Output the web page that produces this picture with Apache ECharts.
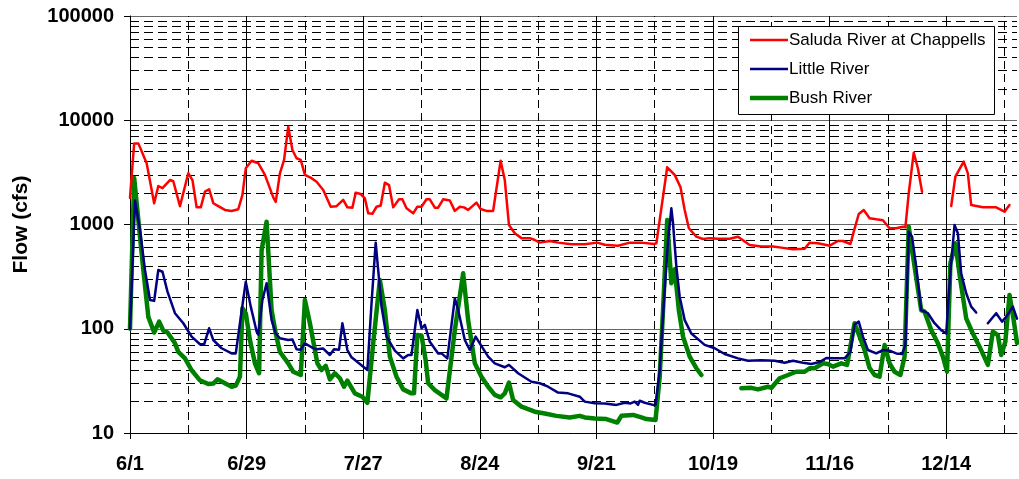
<!DOCTYPE html>
<html>
<head>
<meta charset="utf-8">
<script src="https://cdn.jsdelivr.net/npm/echarts@6/dist/echarts.min.js"></script>
<style>
  html, body { margin: 0; padding: 0; background: #fff; }
  #chart { width: 1019px; height: 479px; }
</style>
</head>
<body>
<div id="chart"></div>
<script>
// Daily streamflow (cfs), x = days after June 1
const tickDays = [0, 28, 56, 84, 112, 140, 168, 196];
const tickLabels = ['6/1', '6/29', '7/27', '8/24', '9/21', '10/19', '11/16', '12/14'];
const halfTickDays = [14, 42, 70, 98, 126, 154, 182, 210];

const saluda = [
  [0,1800],[1,6000],[2,6000],[4,3870],[5.8,1600],[6.8,2340],[7.8,2230],[9.6,2670],[10.4,2600],
  [12,1500],[14,3100],[15,2670],[16,1460],[17,1460],[18,2070],[19,2180],[20,1600],[21.2,1500],
  [22.8,1380],[24.4,1350],[26,1400],[27,1920],[27.8,3460],[29.2,4090],[30.8,3870],[32.4,2990],
  [34.4,1820],[35,1650],[36,3100],[37,4160],[38,8670],[39,5190],[40,4320],[41,4160],[42,2990],
  [43.6,2780],[44.8,2570],[46.4,2140],[48.2,1480],[49.6,1500],[51.2,1720],[52.2,1460],[53.4,1450],
  [54.2,2020],[55.4,1960],[56.4,1780],[57.2,1280],[58.2,1265],[59.2,1480],[60.2,1520],[61.2,2520],
  [62.2,2390],[63.2,1460],[64.6,1745],[65.4,1745],[66.4,1430],[68,1280],[69,1480],[70,1480],
  [71.2,1745],[72,1745],[73.2,1450],[74,1450],[75.2,1745],[76.8,1700],[78,1350],[79.2,1480],
  [80.2,1460],[81.2,1380],[83.2,1620],[84.2,1410],[85.6,1350],[87.2,1350],[89,4090],[90,2670],
  [91,990],[92.4,824],[94,740],[96,740],[97.2,710],[98.4,670],[100.8,695],[102.8,670],[106,646],
  [109.2,646],[112.2,670],[114,640],[117.2,626],[120,670],[122.8,670],[125.8,650],[126.4,660],
  [129,3540],[130.8,2990],[132.2,2280],[133.2,1380],[134.2,920],[136,764],[137.6,726],[139.2,740],
  [141.2,730],[144,730],[146,764],[148.8,636],[151.6,615],[154.4,615],[156.4,600],[159.2,578],
  [162,585],[163.2,670],[165.2,660],[168,626],[170,695],[171.2,695],[173,650],[173.8,853],
  [175,1262],[176.2,1377],[177.6,1150],[179.2,1122],[180.8,1100],[182.4,920],[184,920],
  [185.6,953],[186.2,940],[187,1990],[188.2,4885],[189.2,3460],[190.2,2065],[193,null],
  [197.2,1504],[198.2,2877],[200.2,4005],[201.2,3098],[202,1538],[204.8,1462],[208,1462],
  [210,1327],[211.2,1538]
];

const little = [
  [0,100],[1.2,1700],[2.4,885],[3.6,366],[4.8,189],[5.8,185],[6.8,366],[7.8,352],[9,227],
  [10.8,141],[12.8,113],[14.8,84],[16.8,71],[17.8,71],[19,101],[20,78],[22,65],[24.4,58],
  [25.4,58],[26.4,113],[27.8,283],[29,163],[30.4,94],[30.8,88],[31.8,189],[32.8,273],[34,121],
  [35,90],[36,81],[38,78],[39,79],[40,63.5],[41,63],[42,72.5],[43.6,66.4],[44.8,63.5],[46.4,64.5],
  [48,56],[49,63.5],[50.2,63],[51,113],[52.2,62.5],[53.2,53.2],[55.2,45.9],[57,40.2],[58,175],
  [59,670],[60.4,163],[61.6,84],[63.6,61.6],[65.6,52],[66.8,56],[67.6,56],[69,151],[70,101],
  [70.8,109],[72,75],[74,58],[74.8,58],[76.2,52],[78,196],[78.8,151],[80.4,78],[81.6,62.5],
  [83,84],[84,72.5],[86,54],[87.6,46.6],[90,42.7],[91,45],[93.2,37.4],[96.4,31],[98.4,30],
  [100.4,27.8],[102.8,24.4],[105.2,24],[108,22.3],[109.2,20],[111.6,19.3],[114,19.2],[116.8,18.6],
  [118.8,19.5],[120.2,19.2],[121.2,20],[122,18.6],[122.4,20.4],[123.6,19.5],[125.6,18.6],
  [126.2,18.6],[127.2,40],[128.2,180],[129.2,700],[130,1430],[130.4,1030],[131.2,394],[132,203],
  [133.2,121],[134.8,90],[138,70],[140.4,65],[142.8,57.3],[146,52],[148.4,49.4],[151.6,50],
  [154.8,49.4],[157.2,47.2],[159.2,49.4],[161.6,47.2],[163.6,45.9],[165.6,48],[167.2,52.4],
  [169.2,52],[171.6,52],[173,60],[174,110],[175,117],[176,84],[177.2,62.5],[179.2,58],
  [180.8,62.5],[182.4,61.6],[184,58],[185.4,57.3],[186.2,70],[187,850],[187.8,764],[188.8,394],
  [190,151],[191.6,141],[193.2,113],[194.8,97],[196,90],[197,350],[198,989],[198.8,824],
  [199.6,340],[200.8,219],[202,163],[203.2,143],[204.5,null],[206,113],[208,141],[209.4,117],
  [210.4,130],[212,163],[213,125]
];

const bush = [
  [0,100],[1,2800],[1.6,1600],[2.4,764],[3.2,366],[4.4,130],[5.8,92],[7,117],[8,96],[9,92],
  [10.8,72.5],[11.6,60],[13.2,52],[14.8,40],[16.8,32],[18.8,29.5],[20,29.8],[21,32.7],[22.8,30],
  [24.4,27.8],[25.4,28.5],[26.4,34.7],[27,157],[27.8,141],[28.8,78],[30,46.6],[31,37.4],
  [31.6,569],[32.8,1064],[34,151],[35,90],[36,60],[38,46.6],[39.2,38.7],[41,36],[42,189],
  [43.2,113],[45,46.6],[46,40.2],[47,44],[48,32.7],[49.2,37.4],[50.4,33.5],[51.4,27.8],
  [52.2,31.8],[54,24],[55.8,22.3],[57,19.5],[58.4,72.5],[60,294],[61.2,151],[62.4,54],[64,34.7],
  [65.6,26.2],[67.6,24],[68.2,24],[69,87],[70,86],[71,50],[71.6,30],[73.2,25.8],[76,21.5],
  [78,97],[80,340],[81.2,121],[82.8,46.6],[84.4,34.7],[86,27.8],[87.6,23.2],[89,22],[90,24],
  [91,30.4],[92,20.7],[94,17.9],[97.2,16],[99.6,15.4],[102.4,14.6],[105.6,14.1],[108,14.6],
  [109.2,14.1],[111.6,13.8],[114.4,13.6],[117,12.6],[118,14.6],[120.8,14.9],[122.8,14.1],
  [124,13.6],[126.2,13.3],[127.2,34.7],[128,151],[129,1104],[130,273],[130.8,372],[131.8,151],
  [132.8,84],[134.4,54],[136,41.8],[137.2,36],[140,null],[146.8,26.9],[149.2,27.1],[150.8,26.2],
  [153.2,27.8],[154,27],[156,33.5],[158,36],[160,38.7],[162,38.7],[163.2,41.8],[164.4,41.8],
  [166.4,46.6],[167.6,46],[168.8,43.3],[170.8,46.6],[172.2,45],[174,113],[176.4,62.5],[177.6,42],
  [178.8,36],[180,34.7],[181.2,69.8],[182.4,46.6],[183.6,38.7],[185,36],[186,54],[187,953],
  [188.4,394],[190,151],[190.8,146],[192.4,97],[194,72.5],[195.2,54],[196.2,38.7],[197,424],
  [198.2,660],[199.4,294],[200.8,126],[202.4,90],[204,67.3],[206,45],[207.2,93.7],[208.4,87],
  [209.2,56],[210.2,75],[211.2,211],[212.2,121],[213,73]
];

const seriesNames = ['Saluda River at Chappells', 'Little River', 'Bush River'];
const seriesColors = ['#ff0000', '#000080', '#008000'];
const seriesWidths = [2.5, 2.5, 4.5];

// dashed minor gridlines at 2..9 of each decade
const minorY = [];
[10, 100, 1000, 10000].forEach(function (d) {
  for (let k = 2; k <= 9; k++) minorY.push(k * d);
});

const font = '"Liberation Sans", Arial, sans-serif';

const chart = echarts.init(document.getElementById('chart'), null, { renderer: 'canvas' });

const gridLines = [];
minorY.forEach(function (v) {
  gridLines.push({ yAxis: v, lineStyle: { type: [9, 5], color: '#000', width: 1 } });
});
halfTickDays.forEach(function (v) {
  gridLines.push({ xAxis: v, lineStyle: { type: [8, 5], color: '#000', width: 1 } });
});
tickDays.slice(1).forEach(function (v) {
  gridLines.push({ xAxis: v, lineStyle: { type: 'solid', color: '#000', width: 1 } });
});

const dataSeries = [saluda, little, bush].map(function (d, i) {
  return {
    name: seriesNames[i],
    type: 'line',
    data: d,
    showSymbol: false,
    symbol: 'none',
    connectNulls: false,
    z: 3 + (2 - i),
    lineStyle: { color: seriesColors[i], width: seriesWidths[i], join: 'round', cap: 'round' },
    itemStyle: { color: seriesColors[i] }
  };
});

chart.setOption({
  animation: false,
  backgroundColor: '#fff',
  grid: { left: 130, right: 2, top: 16, bottom: 46, containLabel: false },
  xAxis: {
    type: 'value',
    min: 0,
    max: 213,
    interval: 28,
    axisLine: { show: true, lineStyle: { color: '#000', width: 1 } },
    axisTick: { show: true, length: 6, inside: false, customValues: tickDays, lineStyle: { color: '#000' } },
    axisLabel: {
      customValues: tickDays,
      margin: 21,
      fontFamily: font, fontSize: 20, fontWeight: 'bold', color: '#000',
      formatter: function (v) {
        const i = tickDays.indexOf(Math.round(v));
        return i >= 0 ? tickLabels[i] : '';
      }
    },
    splitLine: { show: false }
  },
  yAxis: {
    type: 'log',
    logBase: 10,
    min: 10,
    max: 100000,
    splitNumber: 4,
    name: 'Flow (cfs)',
    nameLocation: 'middle',
    nameRotate: 90,
    nameGap: 98,
    nameTextStyle: { fontFamily: font, fontSize: 21, fontWeight: 'bold', color: '#000' },
    axisLine: { show: true, lineStyle: { color: '#000', width: 1 } },
    axisTick: { show: true, length: 6, lineStyle: { color: '#000' } },
    axisLabel: {
      margin: 16,
      fontFamily: font, fontSize: 20, fontWeight: 'bold', color: '#000',
      formatter: function (v) { return String(Math.round(v)); }
    },
    splitLine: { show: true, lineStyle: { color: '#666', width: 1.2 } }
  },
  series: [{
    name: 'gridlines',
    type: 'line',
    data: [],
    silent: true,
    z: 1,
    markLine: {
      silent: true,
      z: 1,
      symbol: ['none', 'none'],
      label: { show: false },
      animation: false,
      data: gridLines
    }
  }].concat(dataSeries),
  graphic: (function () {
    const g = [{
      type: 'rect',
      shape: { x: 738.5, y: 26.5, width: 256, height: 88 },
      style: { fill: '#fff', stroke: '#000', lineWidth: 1 },
      z: 100
    }];
    const ys = [40, 69, 98];
    seriesNames.forEach(function (name, i) {
      g.push({
        type: 'line',
        shape: { x1: 750, y1: ys[i], x2: 788, y2: ys[i] },
        style: { stroke: seriesColors[i], lineWidth: seriesWidths[i] },
        z: 101
      });
      g.push({
        type: 'text',
        x: 789, y: ys[i],
        style: { text: name, fill: '#000', font: '17px ' + font, textVerticalAlign: 'middle', textAlign: 'left' },
        z: 101
      });
    });
    return g;
  })()
});
</script>
</body>
</html>
